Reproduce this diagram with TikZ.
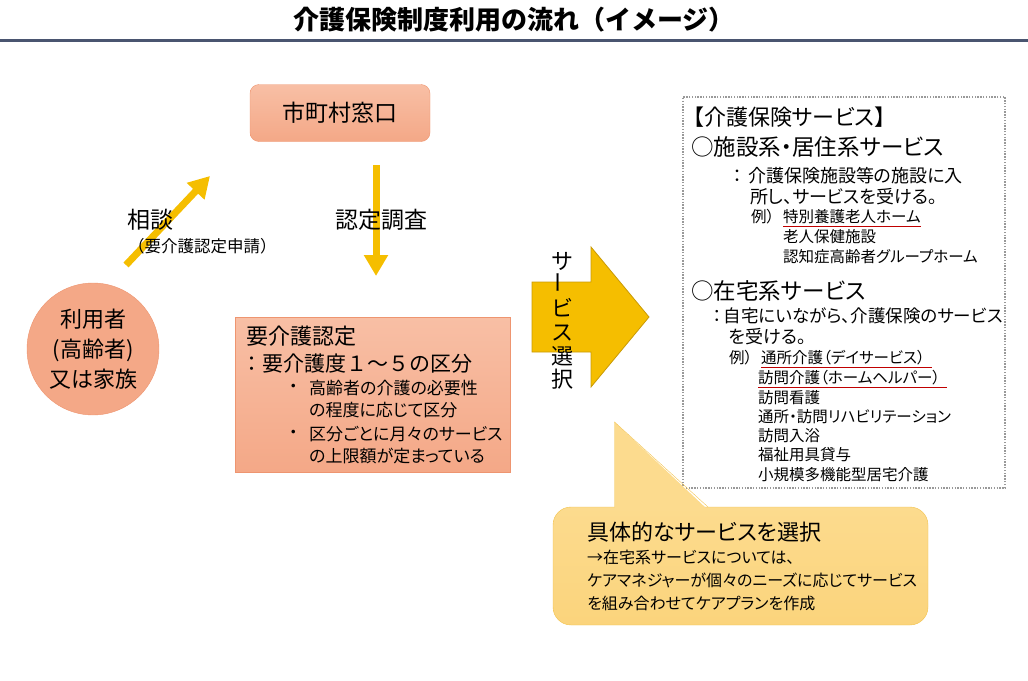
\documentclass[tikz,border=0pt]{standalone}
\usepackage{fontspec}
\setmainfont{Noto Sans CJK JP}[RawFeature=+palt]
\newfontfamily\fullwidth{Noto Sans CJK JP}
\usetikzlibrary{positioning,arrows.meta}

\definecolor{salmon}{HTML}{F4A887}
\definecolor{salmonlt}{HTML}{F8BFA5}
\definecolor{salmonedge}{HTML}{EE9570}
\definecolor{gold}{HTML}{F5BE00}
\definecolor{goldedge}{HTML}{C99A06}
\definecolor{notefill}{HTML}{FBD47C}
\definecolor{notelt}{HTML}{FCDB8E}
\definecolor{noteedge}{HTML}{F2C24C}
\definecolor{rulecol}{HTML}{4A5570}
\definecolor{redline}{HTML}{C00000}

\begin{document}
\begin{tikzpicture}[
  x=1pt, y=-1pt,
  heading/.style={font=\fullwidth\bfseries\fontsize{26}{30}\selectfont, inner sep=0},
  office/.style={draw=salmonedge, rounded corners=9pt, top color=salmonlt, bottom color=salmon, minimum width=180pt, minimum height=57pt, font=\fontsize{23}{27}\selectfont},
  person/.style={circle, draw=salmonedge, fill=salmon, minimum size=132pt, align=center, inner sep=0, font=\fontsize{22}{30}\selectfont},
  certbox/.style={draw=salmonedge, top color=salmonlt, bottom color=salmon, minimum width=275pt, minimum height=155pt},
  servicebox/.style={draw=gray!80, line width=1.2pt, dash pattern=on 1.4pt off 1.4pt, minimum width=322pt, minimum height=391pt},
  note/.style={draw=noteedge, top color=notelt, bottom color=notefill, rounded corners=18pt, minimum width=375pt, minimum height=118pt},
  flow/.style={draw=gold, line width=7pt, -{Triangle[width=23pt,length=21pt]}},
  txt/.style={inner sep=0, anchor=west},
  bigtxt/.style={txt, font=\fontsize{22}{26}\selectfont},
  midtxt/.style={txt, font=\fontsize{18}{22}\selectfont},
  smalltxt/.style={txt, font=\fontsize{17}{22}\selectfont},
  listtxt/.style={txt, font=\fontsize{15.5}{19.2}\selectfont},
  underline/.style={draw=redline, line width=1pt}
]
\useasboundingbox (0,0) rectangle (1028,680);

% Title and rule
\node[heading] (title) at (514,20) {介護保険制度利用の流れ（イメージ）};
\draw[rulecol, line width=3pt] (0,40) -- (1028,40);

% Left part: application and certification
\node[office] (office) at (340,113) {市町村窓口};
\node[person] (user) at (93,349) {利用者\\(高齢者)\\又は家族};
\node[certbox] (cert) at (372.5,394.5) {};

\coordinate (askstart) at (126,265);
\coordinate (askend) at (210,176);
\draw[flow] (askstart) -- (askend);
\coordinate (surveytop) at (376,165);
\coordinate (surveyend) at (376,276);
\draw[flow] (surveytop) -- (surveyend);

\node[bigtxt, font=\fontsize{23}{27}\selectfont] (ask) at (127,220) {相談};
\node[txt, font=\fullwidth\fontsize{16.5}{20}\selectfont] (apply) at (128,246) {（要介護認定申請）};
\node[bigtxt, font=\fontsize{23}{27}\selectfont] (survey) at (335,220) {認定調査};

\node[bigtxt] (certtitle) at (246,336) {要介護認定};
\node[txt, font=\fullwidth\fontsize{21}{24}\selectfont] (certlevel) at (241,364) {：要介護度１～５の区分};
\node[smalltxt] (dotone) at (289,388) {・};
\node[smalltxt, anchor=north west, align=left] (certneed) at (309,380) {高齢者の介護の必要性\\の程度に応じて区分};
\node[smalltxt] (dottwo) at (289,434) {・};
\node[smalltxt, anchor=north west, align=left] (certlimit) at (309,426) {区分ごとに月々のサービス\\の上限額が定まっている};

% Service selection arrow
\draw[fill=gold, draw=goldedge, line width=0.8pt] (532,282) -- (591,282) -- (591,247) -- (649,317) -- (591,387) -- (591,352) -- (532,352) -- cycle;
\node[align=center, inner sep=0, font=\fontsize{22}{23.6}\selectfont] (select) at (562,321) {サ\\\rotatebox{90}{ー}\\ビ\\ス\\選\\択};

% Right part: services
\node[servicebox] (services) at (844,292.5) {};
\node[txt, font=\fontsize{22}{26}\selectfont] (svtitle) at (693,117) {【介護保険サービス】};
\node[txt, font=\fontsize{22.5}{27}\selectfont] (facility) at (691,147) {○施設系・居住系サービス};
\node[midtxt] (facdesc) at (733,176) {：\hspace{6pt}介護保険施設等の施設に入};
\node[midtxt] (facdesctwo) at (750,197) {所し、サービスを受ける。};
\node[listtxt] (facex) at (751,217) {例）};
\node[listtxt] (facone) at (783,217) {特別養護老人ホーム};
\node[listtxt] (factwo) at (783,237) {老人保健施設};
\node[listtxt] (facthree) at (783,257) {認知症高齢者グループホーム};
\draw[underline] ([yshift=-2pt]facone.south west) -- ([yshift=-2pt]facone.south east);

\node[txt, font=\fontsize{22.5}{27}\selectfont] (home) at (691,291) {○在宅系サービス};
\node[midtxt, font=\fontsize{17.5}{22}\selectfont] (homedesc) at (713,316) {：\hspace{2pt}自宅にいながら、介護保険のサービス};
\node[midtxt] (homedesctwo) at (729,337) {を受ける。};
\node[listtxt] (homeex) at (729,358) {例）};
\node[listtxt] (homeone) at (761,358) {通所介護（デイサービス）};
\node[listtxt] (hometwo) at (758,378) {訪問介護（ホームヘルパー）};
\node[listtxt, anchor=north west, align=left] (homelist) at (758,390) {訪問看護\\通所・訪問リハビリテーション\\訪問入浴\\福祉用具貸与\\小規模多機能型居宅介護};
\draw[underline] ([yshift=-2pt]homeone.south west) -- ([yshift=-2pt,xshift=7pt]homeone.south east);
\draw[underline] ([yshift=-2pt]hometwo.south west) -- ([yshift=-2pt,xshift=7pt]hometwo.south east);

% Callout
\node[note] (note) at (740.5,566) {};
\fill[notelt] (614.5,509) -- (614.5,422) -- (707,509) -- cycle;
\draw[noteedge] (614.5,507) -- (614.5,422) -- (708,507);
\node[bigtxt] (notetitle) at (587,532) {具体的なサービスを選択};
\node[txt, anchor=north west, align=left, font=\fontsize{16}{23}\selectfont] (notetext) at (587,550) {→在宅系サービスについては、\\ケアマネジャーが個々のニーズに応じてサービス\\を組み合わせてケアプランを作成};
\end{tikzpicture}
\end{document}
